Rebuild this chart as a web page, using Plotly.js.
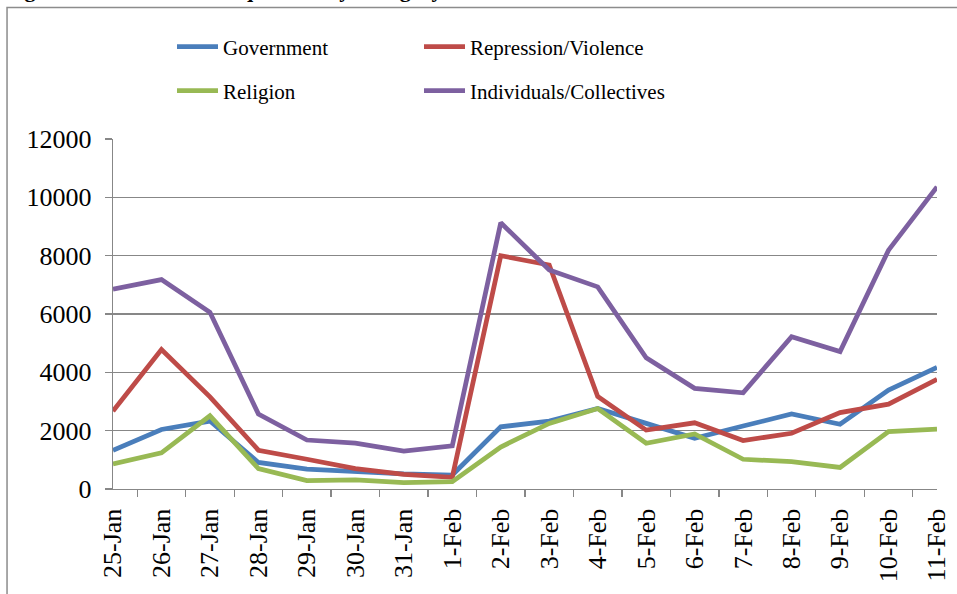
<!DOCTYPE html>
<html>
<head>
<meta charset="utf-8">
<script src="https://cdn.plot.ly/plotly-3.0.1.min.js"></script>
<style>
  html, body { margin: 0; padding: 0; background: #ffffff; }
  #chart { width: 957px; height: 594px; }
</style>
</head>
<body>
<div id="chart"></div>
<script>
// Daily dates on the category axis
const days = ['25-Jan', '26-Jan', '27-Jan', '28-Jan', '29-Jan', '30-Jan', '31-Jan', '1-Feb',
              '2-Feb', '3-Feb', '4-Feb', '5-Feb', '6-Feb', '7-Feb', '8-Feb', '9-Feb', '10-Feb', '11-Feb'];

// Word counts per category and day
const government  = [1330, 2040, 2330, 910, 680, 590, 520, 480, 2130, 2330, 2760, 2250, 1740, 2160, 2570, 2220, 3390, 4170];
const repression  = [2670, 4780, 3160, 1330, 1020, 700, 500, 400, 8000, 7680, 3170, 2020, 2270, 1660, 1910, 2620, 2910, 3760];
const religion    = [860, 1240, 2510, 700, 290, 310, 220, 250, 1440, 2250, 2760, 1570, 1890, 1020, 940, 740, 1970, 2050];
const individuals = [6850, 7180, 6060, 2570, 1680, 1570, 1300, 1480, 9130, 7510, 6930, 4500, 3450, 3300, 5220, 4710, 8190, 10360];

const yTicks = [0, 2000, 4000, 6000, 8000, 10000, 12000];
const figureTitle = 'Figure 3: Total Word Frequencies by Category in Protest Tweets';

const serif = 'Liberation Serif, Times New Roman, serif';
const gridGray = '#878787';

function series(name, values, color, legendId) {
  return {
    type: 'scatter',
    mode: 'lines',
    name: name,
    x: days,
    y: values,
    line: { color: color, width: 4.75 },
    legend: legendId
  };
}

const data = [
  series('Government', government, '#4A7EBB', 'legend'),
  series('Repression/Violence', repression, '#BE4B48', 'legend'),
  series('Religion', religion, '#98B954', 'legend2'),
  series('Individuals/Collectives', individuals, '#7D60A0', 'legend2')
];

// Two-column key, one row per legend
const legendBase = {
  orientation: 'h',
  xanchor: 'left',
  yanchor: 'middle',
  x: 0.0716,
  entrywidth: 191,
  entrywidthmode: 'pixels',
  itemwidth: 41,
  bgcolor: 'rgba(0,0,0,0)',
  font: { family: serif, size: 21, color: '#000000' }
};

const layout = {
  width: 957,
  height: 594,
  margin: { l: 113, r: 20, t: 139, b: 105 },
  paper_bgcolor: '#ffffff',
  plot_bgcolor: '#ffffff',
  font: { family: serif, color: '#000000' },
  showlegend: true,
  legend: Object.assign({}, legendBase, { y: 1.263 }),
  legend2: Object.assign({}, legendBase, { y: 1.137 }),
  xaxis: {
    type: 'category',
    tickson: 'boundaries',
    ticks: 'outside',
    ticklen: 7,
    tickwidth: 1.3,
    tickcolor: gridGray,
    tickangle: -90,
    ticklabelstandoff: 8,
    showline: true,
    linecolor: gridGray,
    linewidth: 1.3,
    showgrid: false,
    zeroline: false,
    tickfont: { family: serif, size: 26, color: '#000000' },
    fixedrange: true
  },
  yaxis: {
    range: [0, 12000],
    tickvals: yTicks,
    ticktext: yTicks.map(String),
    ticks: 'outside',
    ticklen: 7,
    tickwidth: 1.3,
    tickcolor: gridGray,
    ticklabelstandoff: 8,
    showline: true,
    linecolor: gridGray,
    linewidth: 1.3,
    showgrid: true,
    gridcolor: gridGray,
    gridwidth: 1.3,
    zeroline: false,
    tickfont: { family: serif, size: 26, color: '#000000' },
    fixedrange: true
  },
  shapes: [
    {
      type: 'rect',
      xref: 'paper', yref: 'paper',
      x0: -0.1286, x1: 1.2, y0: -0.35, y1: 1.3757,
      line: { color: '#8c8c8c', width: 1.5 },
      fillcolor: 'rgba(0,0,0,0)',
      layer: 'below'
    }
  ],
  annotations: [
    {
      xref: 'paper', yref: 'paper',
      x: -0.134, y: 1.386,
      xanchor: 'left', yanchor: 'bottom',
      showarrow: false,
      text: '<b>' + figureTitle + '</b>',
      font: { family: serif, size: 22, color: '#000000' }
    }
  ]
};

Plotly.newPlot('chart', data, layout, { staticPlot: true, displayModeBar: false });
</script>
</body>
</html>
